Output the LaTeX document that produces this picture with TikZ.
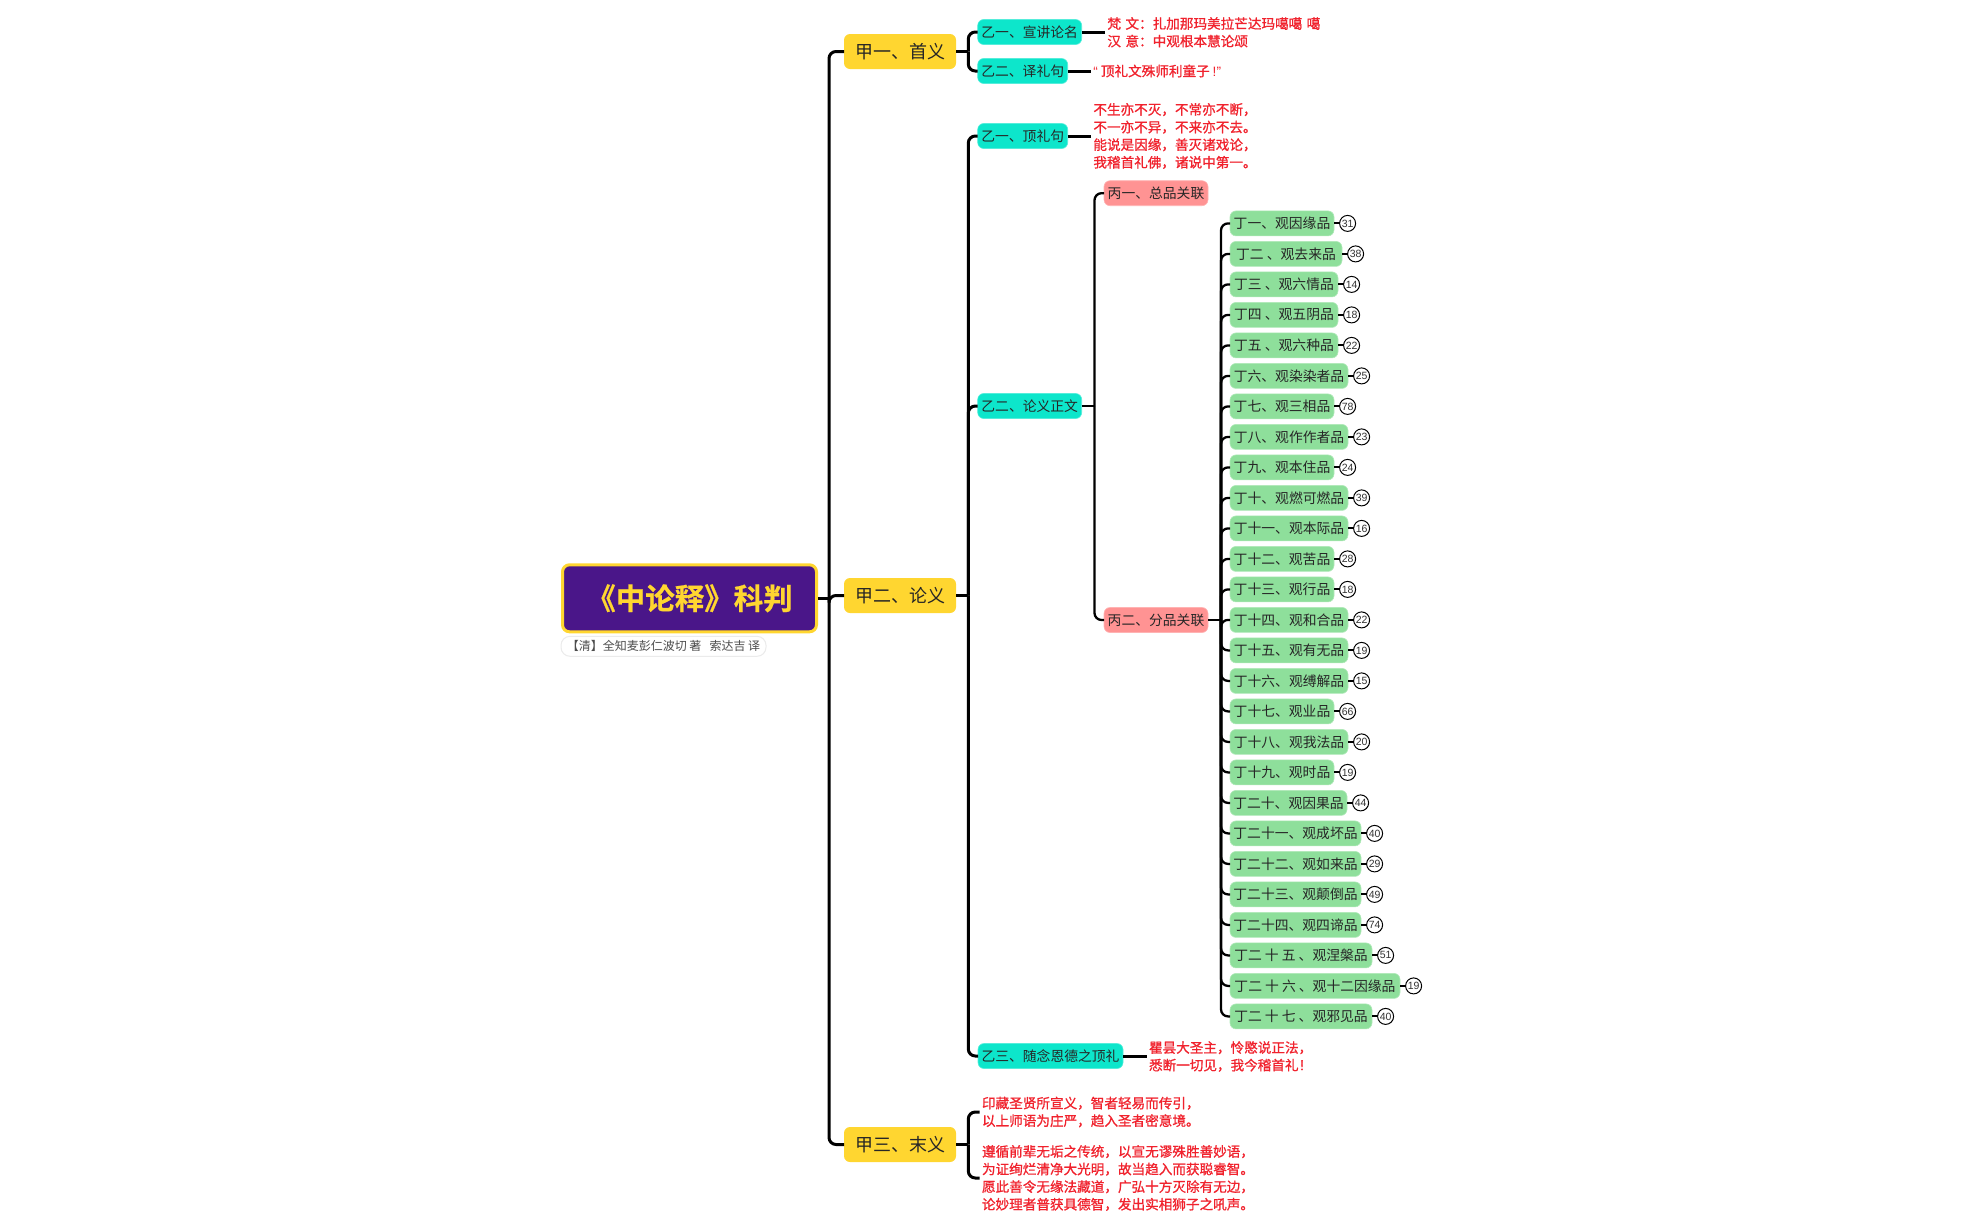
\documentclass[tikz,border=0pt]{standalone}
\usepackage{fontspec}
\setmainfont{Noto Sans CJK SC}
\newfontfamily\cjkb[FakeBold=1.0]{Noto Sans CJK SC}
\newfontfamily\cjkh[FakeBold=0.6]{Noto Sans CJK SC Bold}
\newfontfamily\latn{Liberation Sans}
\newcommand\lbl[1]{\raisebox{-1pt}{#1}}
\definecolor{jia}{HTML}{FFD630}
\definecolor{yi}{HTML}{0DE6CB}
\definecolor{bing}{HTML}{FF9393}
\definecolor{ding}{HTML}{8EDF9B}
\definecolor{hong}{HTML}{F0222D}
\definecolor{zi}{HTML}{4A1689}
\tikzset{
 box/.style={rectangle,rounded corners=6pt,inner sep=0pt,outer sep=0pt,text=black!85},
 jiabox/.style={box,fill=jia,minimum width=112pt,minimum height=35pt,font=\fontsize{18}{20}\selectfont},
 yibox/.style={box,fill=yi,draw=yi!70!white,line width=.6pt,minimum height=25pt,font=\fontsize{13.8}{15}\selectfont},
 bingbox/.style={box,fill=bing,draw=bing!70!white,line width=.6pt,minimum height=25pt,font=\fontsize{13.8}{15}\selectfont},
 dingbox/.style={box,fill=ding,draw=ding!70!white,line width=.6pt,minimum height=25pt,font=\fontsize{13.8}{15}\selectfont},
 redtext/.style={inner sep=0pt,outer xsep=2.4pt,text=hong,align=left,anchor=west,font=\fontsize{13.6}{17.6}\cjkb\selectfont},
 num/.style={circle,draw=black,line width=1pt,fill=white,inner sep=0pt,minimum size=16pt,outer sep=0pt,text=black!80,font=\fontsize{10.5}{11}\latn\selectfont},
 conn/.style={draw=black,line width=3pt,rounded corners=7pt},
 connthin/.style={draw=black,line width=2.3pt,rounded corners=7pt}
}
\begin{document}
\begin{tikzpicture}[x=1pt,y=-1pt]
\useasboundingbox (0,0) rectangle (1982,1227);
\coordinate (sJ) at (829,0);
\coordinate (sYa) at (968.3,0);
\coordinate (sB) at (1094.5,0);
\coordinate (sD) at (1221,0);

% root
\node[rectangle,rounded corners=7pt,fill=zi,draw=jia,line width=3pt,inner sep=0pt,outer sep=1.5pt,minimum width=254pt,minimum height=67pt,text=jia,font=\fontsize{29.5}{32}\cjkh\selectfont] (root) at (689.5,598.3) {《中论释》科判};
\node[rectangle,rounded corners=9pt,fill=white,draw=black!8,line width=1pt,inner sep=0pt,minimum width=205pt,minimum height=20pt,text=black!70,font=\fontsize{12}{14}\selectfont] (sub) at (663.5,646.3) {【清】全知麦彭仁波切 著\ \ \ 索达吉 译};

% level 1
\node[jiabox] (j1) at (900,51.5) {甲一、首义};
\node[jiabox] (j2) at (900,595.5) {甲二、论义};
\node[jiabox] (j3) at (900,1144.5) {甲三、末义};

% level 2
\node[yibox,minimum width=104pt] (y1) at (1029.7,32) {\lbl{乙一、宣讲论名}};
\node[yibox,minimum width=90pt] (y2) at (1022.7,71) {\lbl{乙二、译礼句}};
\node[yibox,minimum width=90pt] (y3) at (1022.7,136) {\lbl{乙一、顶礼句}};
\node[yibox,minimum width=104pt] (y4) at (1029.7,406) {\lbl{乙二、论义正文}};
\node[yibox,minimum width=145pt] (y5) at (1050.5,1056) {\lbl{乙三、随念恩德之顶礼}};

% red texts
\node[redtext] (t1) at (1105,32.3) {梵\hspace{4.5pt}文：扎加那玛美拉芒达玛噶噶\hspace{4.5pt}噶\\汉\hspace{4.5pt}意：中观根本慧论颂};
\node[redtext] (t2) at (1091,71) {{\latn “}\kern3pt 顶礼文殊师利童子\kern3pt{\latn !”}};
\node[redtext] (t3) at (1091,136) {不生亦不灭，不常亦不断，\\不一亦不异，不来亦不去。\\能说是因缘，善灭诸戏论，\\我稽首礼佛，诸说中第一。};
\node[redtext] (t4) at (1146.6,1056.5) {瞿昙大圣主，怜愍说正法，\\悉断一切见，我今稽首礼！};
\node[redtext] (t5) at (979.6,1112) {印藏圣贤所宣义，智者轻易而传引，\\以上师语为庄严，趋入圣者密意境。};
\node[redtext] (t6) at (979.6,1178) {遵循前辈无垢之传统，以宣无谬殊胜善妙语，\\为证绚烂清净大光明，故当趋入而获聪睿智。\\愿此善令无缘法藏道，广弘十方灭除有无边，\\论妙理者普获具德智，发出实相狮子之吼声。};

% level 3
\node[bingbox,minimum width=104pt] (b1) at (1156,193.2) {\lbl{丙一、总品关联}};
\node[bingbox,minimum width=104pt] (b2) at (1156,620) {\lbl{丙二、分品关联}};

% level 4
\foreach \k/\t/\r/\c in {
 1/丁一、观因缘品/1334/31, 2/丁二 、观去来品/1342/38, 3/丁三 、观六情品/1338/14,
 4/丁四 、观五阴品/1338/18, 5/丁五 、观六种品/1338/22, 6/丁六、观染染者品/1348/25,
 7/丁七、观三相品/1334/78, 8/丁八、观作作者品/1348/23, 9/丁九、观本住品/1334/24,
 10/丁十、观燃可燃品/1348/39, 11/丁十一、观本际品/1348/16, 12/丁十二、观苦品/1334/28,
 13/丁十三、观行品/1334/18, 14/丁十四、观和合品/1348/22, 15/丁十五、观有无品/1348/19,
 16/丁十六、观缚解品/1348/15, 17/丁十七、观业品/1334/66, 18/丁十八、观我法品/1348/20,
 19/丁十九、观时品/1334/19, 20/丁二十、观因果品/1347/44, 21/丁二十一、观成坏品/1361/40,
 22/丁二十二、观如来品/1361/29, 23/丁二十三、观颠倒品/1361/49, 24/丁二十四、观四谛品/1361/74,
 25/丁二 十 五 、观涅槃品/1372/51, 26/丁二 十 六 、观十二因缘品/1400/19, 27/丁二 十 七 、观邪见品/1372/40}
{
 \pgfmathsetmacro\yy{223.4+30.5*(\k-1)}
 \pgfmathsetmacro\ww{\r-1230}
 \pgfmathsetmacro\xx{(\r+1230)/2}
 \pgfmathsetmacro\nx{\r+13.6}
 \node[dingbox,minimum width=\ww pt] (d\k) at (\xx,\yy) {\lbl{\t}};
 \node[num] (n\k) at (\nx,\yy) {\c};
 \draw[connthin] (sD |- b2.east) |- (d\k.west);
 \draw[draw=black,line width=2pt] (d\k.east) -- (n\k.west);
}

% connectors
\draw[conn] (root.east) -- (sJ |- root.east);
\foreach \c in {j1,j2,j3}{\draw[conn] (sJ |- root.east) |- (\c.west);}
\draw[conn] (j1.east) -- (sYa |- j1.east);
\foreach \c in {y1,y2}{\draw[conn] (sYa |- j1.east) |- (\c.west);}
\draw[conn] (j2.east) -- (sYa |- j2.east);
\foreach \c in {y3,y4,y5}{\draw[conn] (sYa |- j2.east) |- (\c.west);}
\draw[conn] (j3.east) -- (sYa |- j3.east);
\foreach \c in {t5,t6}{\draw[conn] (sYa |- j3.east) |- (\c.west);}
\draw[conn] (y1.east) -- (t1.west |- y1.east);
\draw[conn] (y2.east) -- (t2.west);
\draw[conn] (y3.east) -- (t3.west);
\draw[conn] (y5.east) -- (t4.west |- y5.east);
\draw[connthin] (y4.east) -- (sB |- y4.east);
\foreach \c in {b1,b2}{\draw[connthin] (sB |- y4.east) |- (\c.west);}
\draw[connthin] (b2.east) -- (sD |- b2.east);
\end{tikzpicture}
\end{document}
